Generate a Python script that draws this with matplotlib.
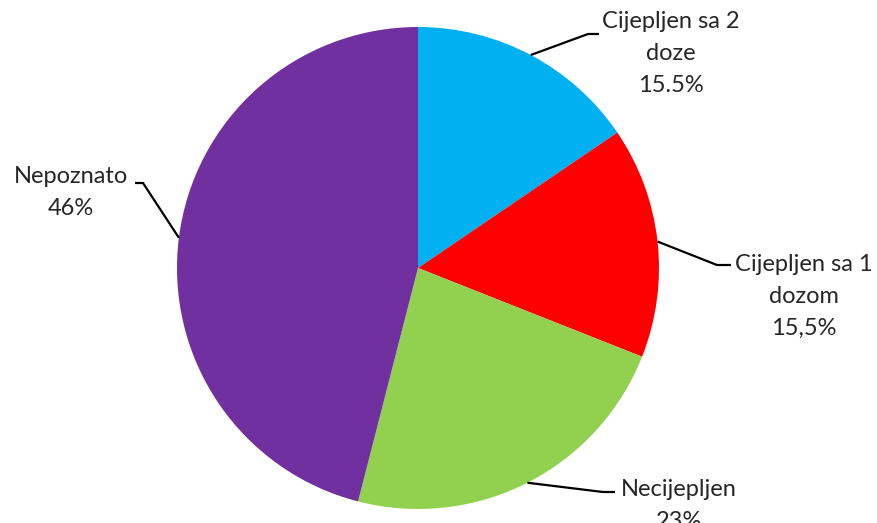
import numpy as np
import matplotlib
matplotlib.use("Agg")
import matplotlib.pyplot as plt

labels = ["Cijepljen sa 2\ndoze", "Cijepljen sa 1\ndozom", "Necijepljen", "Nepoznato"]
values = [15.5, 15.5, 23, 46]
pct_text = ["15.5%", "15,5%", "23%", "46%"]
colors = ["#00B0F0", "#FF0000", "#92D050", "#7030A0"]

W, H = 878, 523
fig = plt.figure(figsize=(W / 100, H / 100), dpi=100)
ax = fig.add_axes([0, 0, 1, 1])

cx, cy, r = 418, H - 268, 241
wedges, _ = ax.pie(values, colors=colors, startangle=90, counterclock=False,
                   center=(cx, cy), radius=r, wedgeprops=dict(linewidth=0))
ax.set_xlim(0, W)
ax.set_ylim(0, H)
ax.set_aspect("equal")
ax.axis("off")

# label layout: (elbow point, end point, text x, text y) in pixel coords (top-origin)
layout = [
    ((588, 34), (599, 34), 671, 11),
    ((717, 265), (731, 265), 804, 254),
    ((603, 492), (615, 492), 679, 479),
    ((143, 183), (135, 183), 71, 166),
]

tc = "#262626"
for w, lab, pct, (elbow, end, tx, ty) in zip(wedges, labels, pct_text, layout):
    ang = np.deg2rad((w.theta1 + w.theta2) / 2)
    ax_ = cx + r * np.cos(ang)
    ay_ = cy + r * np.sin(ang)
    ax.plot([ax_, elbow[0], end[0]], [ay_, H - elbow[1], H - end[1]],
            color="black", lw=1.6, solid_capstyle="butt")
    ax.text(tx, H - ty, lab + "\n" + pct, ha="center", va="top", fontsize=17,
            family=["Lato", "DejaVu Sans"], color=tc, linespacing=1.65)

fig.savefig("out.png", dpi=100)
